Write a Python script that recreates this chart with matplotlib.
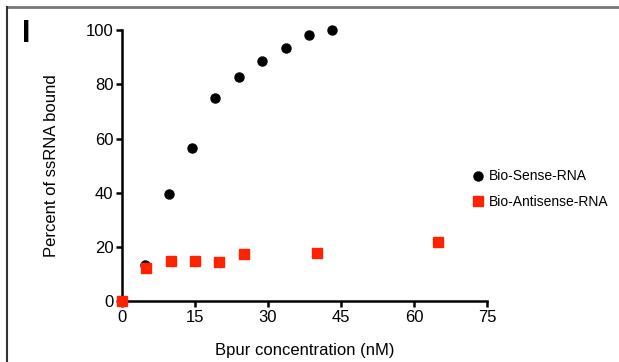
import matplotlib.pyplot as plt
from matplotlib.lines import Line2D

plt.rcParams['font.family'] = ['Liberation Sans', 'DejaVu Sans']

# Bio-Sense-RNA
sense_x = [0, 4.8, 9.6, 14.4, 19.2, 24.0, 28.8, 33.6, 38.4, 43.2]
sense_y = [0, 13.2, 39.5, 56.5, 75.0, 82.7, 88.5, 93.3, 98.0, 100.0]

# Bio-Antisense-RNA
anti_x = [0, 5, 10, 15, 20, 25, 40, 65]
anti_y = [0, 12.2, 15.0, 14.7, 14.5, 17.5, 17.8, 22.0]

xticks = [0, 15, 30, 45, 60, 75]
yticks = [0, 20, 40, 60, 80, 100]

fig = plt.figure(figsize=(6.19, 3.62), dpi=100)
ax = fig.add_axes([0.197, 0.168, 0.590, 0.749])

ax.plot(sense_x, sense_y, 'o', color='black', markersize=6.5, clip_on=False, zorder=3)
ax.plot(anti_x, anti_y, 's', color='#ff2200', markersize=7, clip_on=False, zorder=4)

ax.set_xlim(0, 75)
ax.set_ylim(0, 100)
ax.set_xticks(xticks)
ax.set_yticks(yticks)
ax.spines['top'].set_visible(False)
ax.spines['right'].set_visible(False)
ax.spines['left'].set_linewidth(1.8)
ax.spines['bottom'].set_linewidth(1.8)
ax.tick_params(width=1.8, length=4, labelsize=12, pad=2)

ax.set_xlabel('Bpur concentration (nM)', fontsize=12, labelpad=13)
ax.set_ylabel('Percent of ssRNA bound', fontsize=12, labelpad=19)

handles = [
    Line2D([], [], marker='o', color='black', linestyle='none', markersize=6.5),
    Line2D([], [], marker='s', color='#ff2200', linestyle='none', markersize=7),
]
fig.legend(handles, ['Bio-Sense-RNA', 'Bio-Antisense-RNA'],
           loc='center left', bbox_to_anchor=(0.738, 0.478), frameon=False,
           fontsize=10, handletextpad=0.2, labelspacing=0.8, handlelength=1.2)

# panel label and frame edges
fig.text(0.036, 0.907, 'I', fontsize=22, fontweight='bold', va='center', ha='left')
fig.add_artist(Line2D([0.012, 1.0], [0.981, 0.981], color='#777777', linewidth=2))
fig.add_artist(Line2D([0.012, 0.012], [0.0, 0.981], color='#333333', linewidth=1.5))

fig.savefig('out.png', dpi=100)
